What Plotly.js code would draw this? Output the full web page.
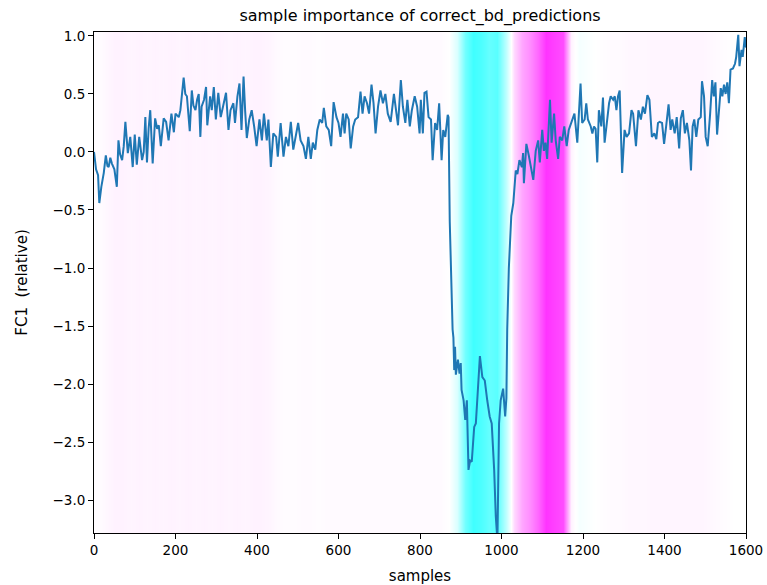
<!DOCTYPE html>
<html>
<head>
<meta charset="utf-8">
<script src="https://cdn.plot.ly/plotly-3.0.1.min.js"></script>
<style>html,body{margin:0;padding:0;background:#fff;}#chart{width:767px;height:585px;}</style>
</head>
<body>
<div id="chart"></div>
<script>
// Signal (FC1 relative)
const sampleX = [0,5,10,13,18,24,29,33,36,40,44,50,56,60,64,69,73,77,83,89,95,100,105,111,118,122,126,130,134,138,144,150,155,159,164,171,177,183,190,196,200,208,212,216,220,224,228,235,240,244,249,253,257,261,264,270,275,278,282,285,289,294,299,305,311,317,324,330,335,342,346,352,357,362,367,371,375,381,387,393,399,406,412,417,424,428,434,440,447,451,458,465,471,477,483,489,496,501,507,514,520,526,532,537,543,548,554,560,564,570,576,582,588,595,600,605,611,615,619,625,630,636,641,648,654,659,664,670,675,681,686,691,697,703,709,715,721,728,736,742,746,753,758,764,769,775,780,787,793,799,802,807,811,816,821,827,831,837,842,847,853,857,862,868,870,873,877,880,882,883,884,886,888,893,897,900,902,907,911,915,919,923,927,933,937,941,947,953,959,965,971,976,982,986,990,994,998,1004,1009,1012,1014,1018,1024,1029,1031,1033,1035,1039,1044,1050,1053,1055,1061,1067,1073,1078,1084,1090,1094,1100,1104,1108,1112,1119,1123,1129,1133,1139,1143,1149,1154,1160,1165,1173,1179,1186,1190,1194,1198,1204,1208,1212,1219,1223,1227,1231,1235,1239,1245,1249,1253,1259,1264,1268,1274,1278,1282,1286,1290,1296,1302,1307,1313,1319,1323,1330,1336,1342,1347,1352,1358,1363,1369,1375,1380,1384,1388,1394,1399,1404,1410,1415,1419,1425,1430,1436,1440,1445,1450,1455,1461,1465,1469,1473,1478,1483,1489,1492,1497,1501,1506,1512,1517,1521,1525,1529,1533,1538,1542,1546,1550,1554,1558,1562,1568,1573,1576,1581,1584,1589,1592,1597,1600];
const fc1Values = [0.0,-0.15,-0.2,-0.44,-0.3,-0.18,-0.03,-0.12,-0.13,-0.05,-0.1,-0.15,-0.30,0.10,-0.02,-0.07,0.05,0.26,-0.01,0.13,-0.13,0.15,-0.11,0.13,-0.07,0.0,0.30,-0.09,0.2,0.36,-0.1,0.29,0.2,0.23,0.05,0.29,0.26,0.10,0.33,0.17,0.33,0.30,0.36,0.5,0.64,0.5,0.48,0.18,0.53,0.4,0.36,0.45,0.50,0.13,0.39,0.45,0.56,0.23,0.4,0.48,0.36,0.56,0.28,0.51,0.30,0.39,0.51,0.19,0.36,0.42,0.25,0.48,0.59,0.19,0.65,0.35,0.12,0.28,0.36,0.22,0.05,0.28,0.10,0.33,0.10,0.28,-0.13,0.16,0.13,-0.04,0.25,-0.04,0.13,0.05,0.26,0.02,0.16,0.25,0.10,0.05,-0.06,0.13,-0.06,0.08,0.02,0.19,0.28,0.25,0.38,0.22,0.19,0.05,0.43,0.30,0.25,0.13,0.33,0.16,0.33,0.28,0.03,0.22,0.28,0.30,0.52,0.33,0.48,0.42,0.33,0.58,0.42,0.16,0.39,0.53,0.42,0.50,0.33,0.26,0.50,0.36,0.23,0.62,0.39,0.25,0.45,0.22,0.36,0.48,0.39,0.16,0.45,0.16,0.51,0.52,0.30,0.28,-0.07,0.25,0.19,0.42,-0.07,0.19,0.13,0.32,0.30,-0.6,-1.3,-1.53,-1.6,-1.68,-1.88,-1.68,-1.92,-1.79,-1.91,-1.82,-2.05,-2.14,-2.31,-2.14,-2.74,-2.66,-2.67,-2.37,-2.34,-2.11,-1.76,-1.94,-1.97,-2.14,-2.28,-2.34,-2.74,-3.14,-3.35,-2.34,-2.14,-2.04,-2.28,-2.12,-1.53,-1.0,-0.55,-0.44,-0.33,-0.24,-0.16,-0.19,-0.07,-0.13,-0.01,-0.27,0.07,-0.03,-0.16,-0.24,0.01,0.10,-0.09,0.19,0.01,0.08,-0.06,0.45,0.08,0.33,0.10,-0.06,0.13,0.10,0.22,0.05,0.19,0.28,0.33,0.08,0.36,0.59,0.25,0.28,0.42,0.28,0.22,0.16,0.22,0.20,-0.09,0.36,0.22,0.47,0.08,0.25,0.42,0.48,0.45,0.48,0.36,0.48,0.53,-0.18,0.19,0.13,0.16,0.36,0.33,0.05,0.36,0.28,0.39,0.33,0.49,0.45,0.13,0.16,0.11,0.25,0.26,0.25,0.07,0.22,0.41,0.19,0.28,0.16,0.30,0.03,0.29,0.36,0.16,0.25,0.10,-0.16,0.22,0.28,0.13,0.28,0.30,0.61,0.48,0.13,0.05,0.33,0.62,0.48,0.60,0.15,0.33,0.55,0.48,0.58,0.50,0.60,0.42,0.71,0.72,0.76,0.82,1.01,0.74,0.88,0.82,0.99,0.90];

// Sample importance per 20-sample bin (bin centres)
const importanceX = [10,30,50,70,90,110,130,150,170,190,210,230,250,270,290,310,330,350,370,390,410,430,450,470,490,510,530,550,570,590,610,630,650,670,690,710,730,750,770,790,810,830,850,870,890,910,930,950,970,990,1010,1030,1050,1070,1090,1110,1130,1150,1170,1190,1210,1230,1250,1270,1290,1310,1330,1350,1370,1390,1410,1430,1450,1470,1490,1510,1530,1550,1570,1590];
const importanceValues = [0.01,0.03,0.05,0.05,0.04,0.05,0.04,0.05,0.04,0.05,0.04,0.05,0.04,0.05,0.04,0.05,0.04,0.05,0.04,0.05,0.05,0.04,0.02,0.01,0.01,0.02,0.02,0.01,0.02,0.02,0.02,0.02,0.02,0.02,0.02,0.02,0.02,0.02,0.02,0.02,0.02,0.02,0.02,0.0,-0.15,-0.55,-0.75,-0.7,-0.6,-0.65,-0.25,0.15,0.35,0.45,0.6,0.8,0.75,0.7,0.05,-0.04,-0.02,0.0,0.01,0.02,0.02,0.03,0.03,0.03,0.04,0.04,0.04,0.04,0.04,0.04,0.04,0.03,0.02,0.01,0.0,0.0];
const importanceRowsY = [-6, 4];

const yTicks = [1.0,0.5,0.0,-0.5,-1.0,-1.5,-2.0,-2.5,-3.0];
const xTicks = [0,200,400,600,800,1000,1200,1400,1600];

const font = {family: 'DejaVu Sans, sans-serif', color: '#000'};

const traces = [
  {
    type: 'heatmap',
    x: importanceX,
    y: importanceRowsY,
    z: [importanceValues, importanceValues],
    zmin: -1, zmax: 1,
    colorscale: [[0, '#00FFFF'], [0.5, '#FFFFFF'], [1, '#FF00FF']],
    zsmooth: 'best',
    showscale: false,
    hoverinfo: 'skip'
  },
  {
    type: 'scatter',
    mode: 'lines',
    x: sampleX,
    y: fc1Values,
    line: {color: '#1f77b4', width: 2},
    hoverinfo: 'skip'
  }
];

const layout = {
  width: 767, height: 585,
  margin: {l: 94, r: 21, t: 32, b: 52},
  paper_bgcolor: '#fff', plot_bgcolor: '#fff',
  showlegend: false,
  font: Object.assign({size: 13}, font),
  title: {text: 'sample importance of correct_bd_predictions', font: Object.assign({size: 16}, font), x: 0.5, xanchor: 'center', y: 0.974, yanchor: 'middle', xref: 'paper'},
  xaxis: {
    range: [0, 1600], tickvals: xTicks, ticktext: xTicks.map(String),
    ticks: 'outside', ticklen: 5, tickwidth: 1, tickcolor: '#000',
    showline: true, linecolor: '#000', linewidth: 1, mirror: true,
    showgrid: false, zeroline: false,
    tickfont: Object.assign({size: 13.5}, font),
    title: {text: 'samples', font: Object.assign({size: 15}, font), standoff: 19},
    automargin: false
  },
  yaxis: {
    range: [-3.284, 1.034], tickvals: yTicks, ticktext: yTicks.map(v => v.toFixed(1).replace('-', '\u2212')),
    ticks: 'outside', ticklen: 5, tickwidth: 1, tickcolor: '#000',
    showline: true, linecolor: '#000', linewidth: 1, mirror: true,
    showgrid: false, zeroline: false,
    tickfont: Object.assign({size: 13.5}, font),
    title: {text: 'FC1\u00a0 (relative)', font: Object.assign({size: 15}, font), standoff: 21},
    automargin: false
  }
};

Plotly.newPlot('chart', traces, layout, {displayModeBar: false, staticPlot: true});
</script>
</body>
</html>
